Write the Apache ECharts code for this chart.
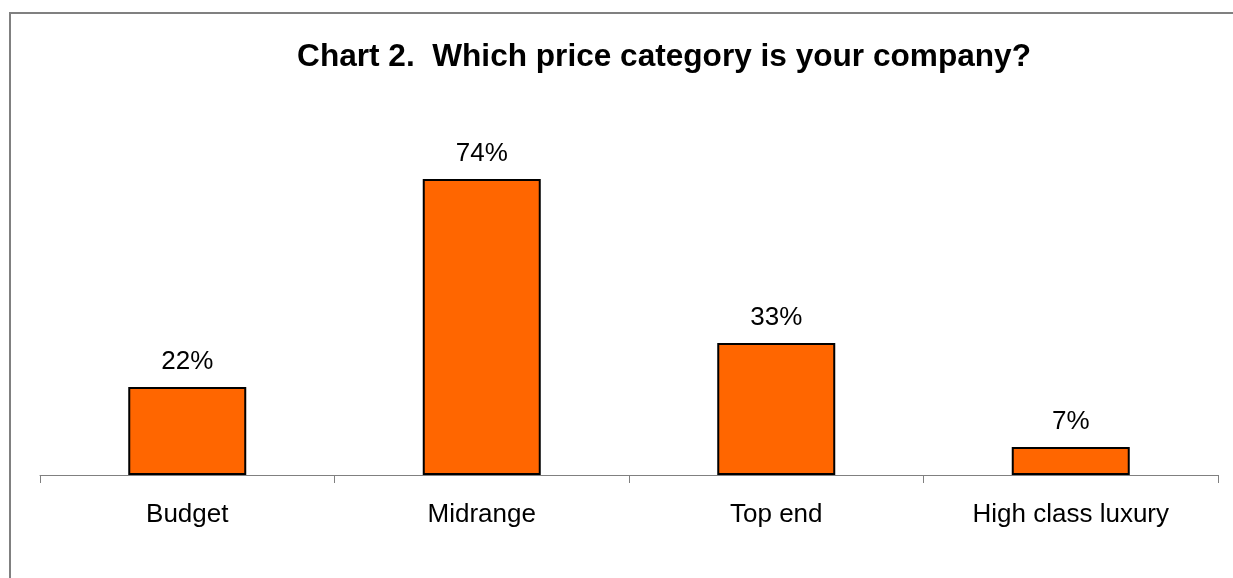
<!DOCTYPE html>
<html>
<head>
<meta charset="utf-8">
<script src="https://cdn.jsdelivr.net/npm/echarts@6/dist/echarts.min.js"></script>
<style>
html,body{margin:0;padding:0;background:#fff;}
#c{width:1233px;height:578px;}
</style>
</head>
<body>
<div id="c"></div>
<script>
const categories = ['Budget', 'Midrange', 'Top end', 'High class luxury'];
const values = [22, 74, 33, 7];
const titleText = 'Chart 2.  Which price category is your company?';

const chart = echarts.init(document.getElementById('c'), null, {renderer: 'canvas'});
chart.setOption({
  animation: false,
  backgroundColor: '#ffffff',
  graphic: [{
    type: 'rect',
    shape: {x: 10, y: 13, width: 1300, height: 700},
    style: {fill: 'none', stroke: '#808080', lineWidth: 2},
    silent: true
  }],
  title: {
    text: titleText,
    left: 664,
    textAlign: 'center',
    top: 41.5,
    padding: 0,
    textStyle: {fontFamily: 'Liberation Sans, Arial, sans-serif', fontSize: 31.6, fontWeight: 'bold', color: '#000', lineHeight: 32}
  },
  grid: {left: 40, right: 15, top: 155, bottom: 103, containLabel: false},
  xAxis: {
    type: 'category',
    data: categories,
    boundaryGap: true,
    axisLine: {lineStyle: {color: '#808080', width: 1}},
    axisTick: {show: true, alignWithLabel: false, length: 8, lineStyle: {color: '#808080'}},
    axisLabel: {margin: 27, fontFamily: 'Liberation Sans, Arial, sans-serif', fontSize: 26, color: '#000'}
  },
  yAxis: {
    type: 'value',
    min: 0, max: 80,
    show: false,
    splitLine: {show: false}
  },
  series: [{
    type: 'bar',
    data: values,
    barWidth: 118,
    itemStyle: {color: '#FF6600', borderColor: '#000', borderWidth: 2},
    label: {
      show: true,
      position: 'top',
      distance: 12,
      formatter: p => p.value + '%',
      fontFamily: 'Liberation Sans, Arial, sans-serif',
      fontSize: 26,
      color: '#000'
    }
  }]
});
</script>
</body>
</html>
